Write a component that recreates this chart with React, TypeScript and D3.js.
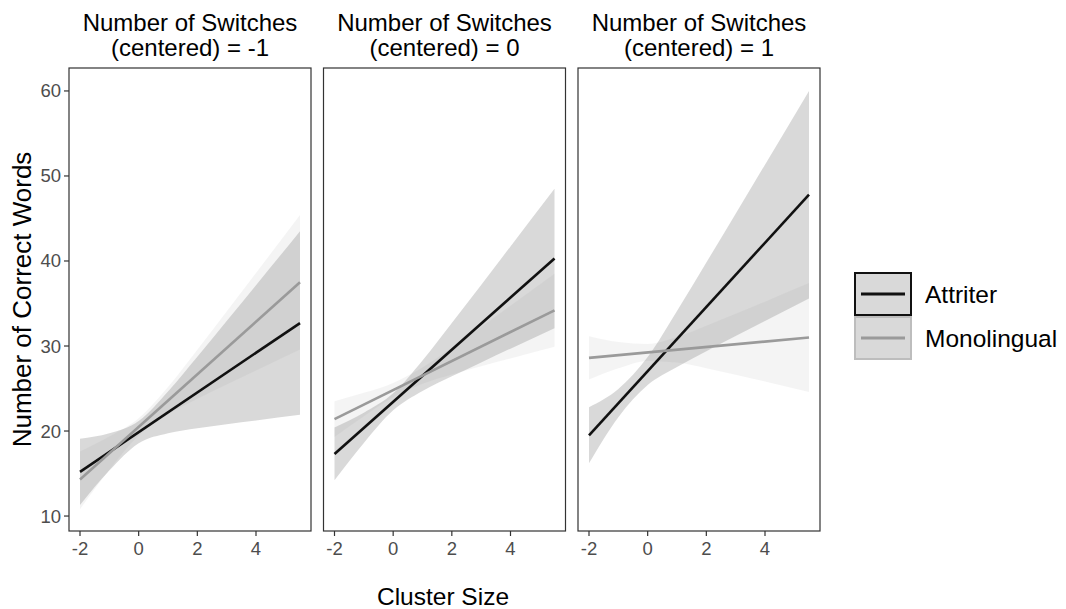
import * as d3 from "d3";

// facet levels and x grid shared by every panel
const switchLevels = ["-1", "0", "1"];
const bandX = [-2, -1, 0, 1, 2, 3, 4, 5.5];
const fitX = [-2, 5.5];
const xTicks = [-2, 0, 2, 4];
const yTicks = [10, 20, 30, 40, 50, 60];

// fitted lines (value at x = -2 and x = 5.5), one row per panel
const attriterFit = [
  [15.2, 32.7],
  [17.3, 40.3],
  [19.5, 47.8],
];
const monoFit = [
  [14.3, 37.5],
  [21.4, 34.2],
  [28.6, 31.0],
];

// confidence bands at bandX
const attriterLower = [
  [11.3, 15.35, 18.56, 19.74, 20.33, 20.81, 21.25, 21.9],
  [14.2, 18.6, 22.43, 24.7, 26.43, 28.07, 29.69, 32.1],
  [16.2, 21.63, 25.4, 27.52, 29.38, 31.18, 32.95, 35.6],
];
const attriterUpper = [
  [19.1, 19.73, 21.18, 24.66, 28.75, 32.94, 37.15, 43.5],
  [20.4, 22.14, 24.43, 28.3, 32.71, 37.19, 41.71, 48.5],
  [22.8, 24.93, 28.7, 34.12, 39.82, 45.57, 51.33, 60.0],
];
const monoLower = [
  [10.8, 15.44, 19.47, 21.98, 23.79, 25.48, 27.13, 29.6],
  [19.3, 21.73, 23.96, 25.56, 26.66, 27.62, 28.54, 29.9],
  [26.05, 27.37, 28.24, 28.06, 27.39, 26.62, 25.82, 24.6],
];
const monoUpper = [
  [17.6, 19.36, 21.51, 25.18, 29.57, 34.06, 38.59, 45.4],
  [23.5, 24.49, 25.66, 27.48, 29.8, 32.24, 34.74, 38.5],
  [31.15, 30.47, 30.24, 31.06, 32.37, 33.78, 35.22, 37.4],
];

const groups = ["Attriter", "Monolingual"];
const lineColor = { Attriter: "#111111", Monolingual: "#9a9a9a" };
const keyBorder = { Attriter: "#111111", Monolingual: "#bdbdbd" };

const W = 1066;
const H = 609;
const font = "'Liberation Sans', Arial, Helvetica, sans-serif";
const panelW = 242;
const panelGap = 12.5;
const firstLeft = 69;
const top = 68;
const bottom = 531;

export default function App() {
  const y = d3.scaleLinear().domain([8.24, 62.7]).range([bottom, top]);
  const bandFill = "#969696";

  return (
    <div style={{ position: "fixed", left: 0, top: 0, background: "#fff" }}>
      <svg width={W} height={H} style={{ display: "block", fontFamily: font }}>
        <rect width={W} height={H} fill="#fff" />
        {switchLevels.map((lvl, i) => {
          const left = firstLeft + i * (panelW + panelGap);
          const x = d3.scaleLinear().domain([-2.375, 5.875]).range([left, left + panelW]);
          const area = (lo: number[], hi: number[]) =>
            d3
              .area<number>()
              .x((d) => x(d))
              .y0((_, j) => y(lo[j]))
              .y1((_, j) => y(hi[j]))
              .curve(d3.curveMonotoneX)(bandX) || "";
          const line = (vals: number[]) =>
            d3
              .line<number>()
              .x((d) => x(d))
              .y((_, j) => y(vals[j]))(fitX) || "";
          const cx = left + panelW / 2;
          return (
            <g key={lvl}>
              <text x={cx} y={31} textAnchor="middle" fontSize={24} fill="#000">
                Number of Switches
              </text>
              <text x={cx} y={56} textAnchor="middle" fontSize={24} fill="#000">
                (centered) = {lvl}
              </text>
              <path d={area(attriterLower[i], attriterUpper[i])} fill={bandFill} fillOpacity={0.36} />
              <path d={area(monoLower[i], monoUpper[i])} fill={bandFill} fillOpacity={0.1} />
              <path d={line(attriterFit[i])} stroke={lineColor.Attriter} strokeWidth={2.6} fill="none" />
              <path d={line(monoFit[i])} stroke={lineColor.Monolingual} strokeWidth={2.6} fill="none" />
              <rect
                x={left}
                y={top}
                width={panelW}
                height={bottom - top}
                fill="none"
                stroke="#333"
                strokeWidth={1.2}
              />
              {xTicks.map((t) => (
                <g key={t}>
                  <line x1={x(t)} x2={x(t)} y1={bottom} y2={bottom + 5} stroke="#333" strokeWidth={1.2} />
                  <text x={x(t)} y={555} textAnchor="middle" fontSize={18.5} fill="#4d4d4d">
                    {t}
                  </text>
                </g>
              ))}
              {i === 0 &&
                yTicks.map((t) => (
                  <g key={t}>
                    <line x1={left - 5} x2={left} y1={y(t)} y2={y(t)} stroke="#333" strokeWidth={1.2} />
                    <text x={left - 8} y={y(t) + 6.5} textAnchor="end" fontSize={18.5} fill="#4d4d4d">
                      {t}
                    </text>
                  </g>
                ))}
            </g>
          );
        })}
        <text x={443} y={605} textAnchor="middle" fontSize={24.5} fill="#000">
          Cluster Size
        </text>
        <text
          transform={`translate(31,${(top + bottom) / 2}) rotate(-90)`}
          textAnchor="middle"
          fontSize={26}
          fill="#000"
        >
          Number of Correct Words
        </text>
        {groups.map((g, k) => {
          const ky = 273 + k * 44;
          return (
            <g key={g}>
              <rect x={855} y={ky} width={56} height={42} fill="#d9d9d9" stroke={keyBorder[g]} strokeWidth={2} />
              <line x1={861} x2={905} y1={ky + 21} y2={ky + 21} stroke={lineColor[g]} strokeWidth={2.8} />
              <text x={925} y={ky + 30} fontSize={24.5} fill="#000">
                {g}
              </text>
            </g>
          );
        })}
      </svg>
    </div>
  );
}
